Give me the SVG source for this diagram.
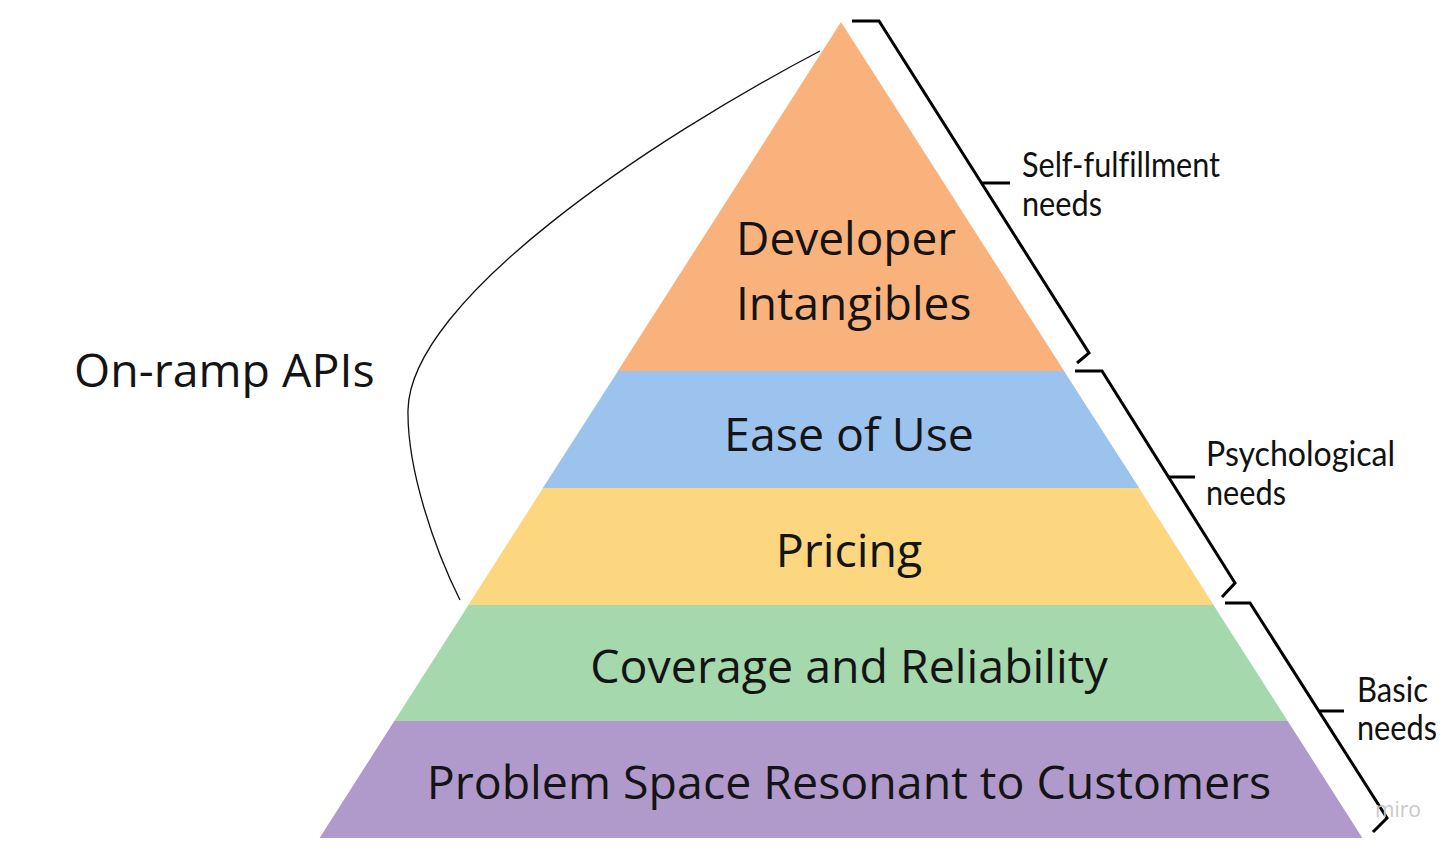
<svg xmlns="http://www.w3.org/2000/svg" width="1456" height="851" viewBox="0 0 1456 851">
<style>
.lvl{font-family:"Open Sans","Noto Sans",sans-serif;font-size:46.5px;fill:#141414;text-anchor:middle}
.top{font-family:"Open Sans","Noto Sans",sans-serif;font-size:46px;fill:#141414}
.side{font-family:"Lato","Liberation Sans",sans-serif;font-size:34px;fill:#111;font-variant-ligatures:none}
.brace{fill:none;stroke:#000;stroke-width:3;stroke-linejoin:miter}
</style>
<rect width="1456" height="851" fill="#fff"/>
<g id="level-top">
<polygon points="841,22 1064.5,371.5 617.5,371.5" fill="#FAB27C"/>
<text class="top" x="736" y="255">Developer</text>
<text class="top" x="736" y="320">Intangibles</text>
</g>
<g id="level-ease">
<polygon points="618,371 1064,371 1139.5,488.5 542.5,488.5" fill="#9CC3EE"/>
<text class="lvl" x="849" y="451">Ease of Use</text>
</g>
<g id="level-pricing">
<polygon points="543,488 1139,488 1214,605.5 468,605.5" fill="#FDD680"/>
<text class="lvl" x="849" y="567">Pricing</text>
</g>
<g id="level-coverage">
<polygon points="468.5,605 1213.5,605 1288,721.5 394,721.5" fill="#A5D8AD"/>
<text class="lvl" x="849" y="683">Coverage and Reliability</text>
</g>
<g id="level-problem">
<polygon points="394.3,721 1287.7,721 1362.4,838 319.6,838" fill="#B09ACC"/>
<text class="lvl" x="849" y="799">Problem Space Resonant to Customers</text>
</g>
<g id="on-ramp">
<text x="74" y="387" style="font-family:'Open Sans','Noto Sans',sans-serif;font-size:46.5px;fill:#141414">On-ramp APIs</text>
</g>
<g id="connectors">
<path d="M820,51 C650,140 410,300 408,410 C407,470 435,550 460,600" fill="none" stroke="#111" stroke-width="1.3"/>
<polyline class="brace" points="852,21 879,21 1089,353 1077,363"/>
<line class="brace" x1="982" y1="183" x2="1010" y2="183"/>
<polyline class="brace" points="1075,371 1102,371 1235,583 1222,597"/>
<line class="brace" x1="1169" y1="477" x2="1195" y2="477"/>
<polyline class="brace" points="1225,603 1250,603 1387,818 1373,832"/>
<line class="brace" x1="1319" y1="711" x2="1344" y2="711"/>
</g>
<g id="label-self">
<text class="side" x="1022" y="177" textLength="198" lengthAdjust="spacingAndGlyphs">Self-fulfillment</text>
<text class="side" x="1022" y="216" textLength="80" lengthAdjust="spacingAndGlyphs">needs</text>
</g>
<g id="label-psych">
<text class="side" x="1206" y="466" textLength="189" lengthAdjust="spacingAndGlyphs">Psychological</text>
<text class="side" x="1206" y="505" textLength="80" lengthAdjust="spacingAndGlyphs">needs</text>
</g>
<g id="label-basic">
<text class="side" x="1357" y="702" textLength="71" lengthAdjust="spacingAndGlyphs">Basic</text>
<text class="side" x="1357" y="740" textLength="80" lengthAdjust="spacingAndGlyphs">needs</text>
</g>
<text x="1375" y="817" style="font-family:'Open Sans',sans-serif;font-size:21px;fill:#c9c9c9">miro</text>
</svg>
